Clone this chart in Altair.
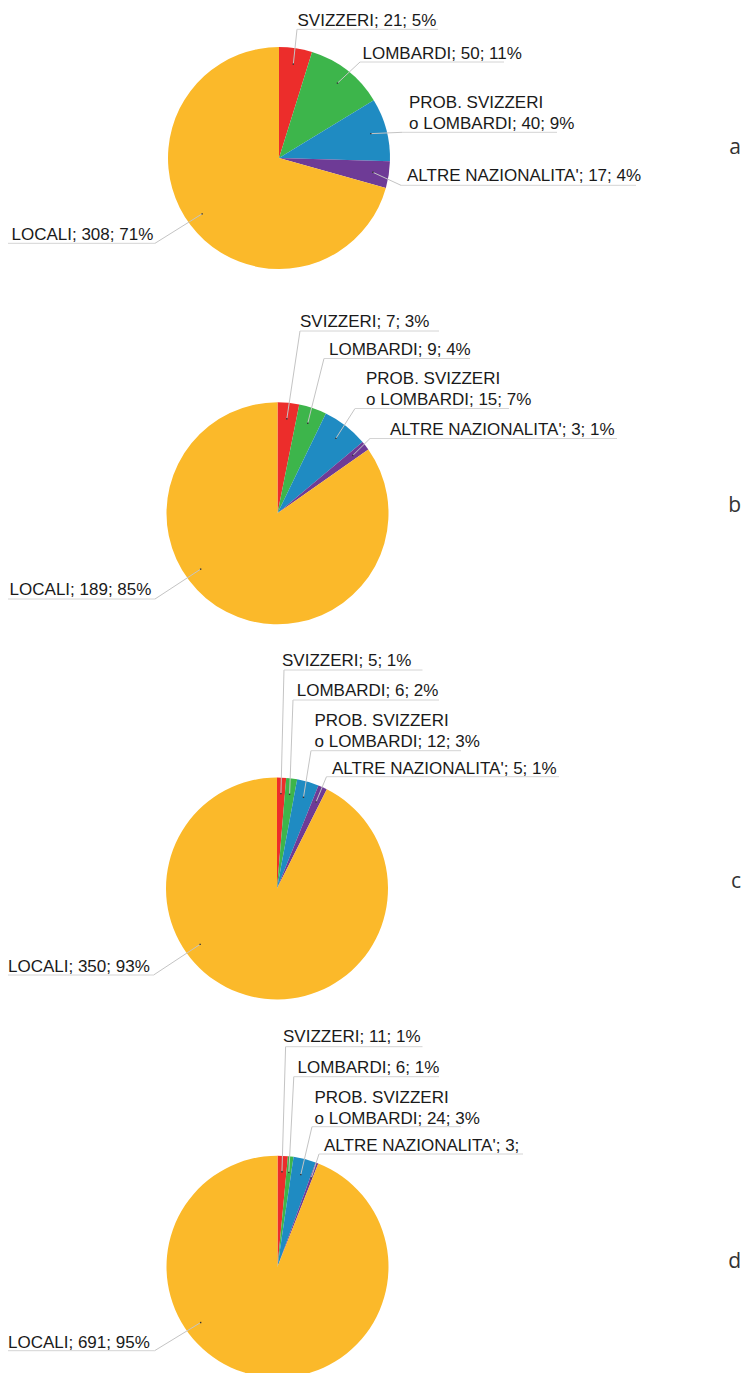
import math
import altair as alt
import pandas as pd

# ---------------- data ----------------
PANELS = ["a", "b", "c", "d"]
CATEGORIES = ["SVIZZERI", "LOMBARDI", "PROB. SVIZZERI\no LOMBARDI",
              "ALTRE NAZIONALITA'", "LOCALI"]
VALUES_A = [21, 50, 40, 17, 308]
VALUES_B = [7, 9, 15, 3, 189]
VALUES_C = [5, 6, 12, 5, 350]
VALUES_D = [11, 6, 24, 3, 691]
PCT_A = ["5%", "11%", "9%", "4%", "71%"]
PCT_B = ["3%", "4%", "7%", "1%", "85%"]
PCT_C = ["1%", "2%", "3%", "1%", "93%"]
PCT_D = ["1%", "1%", "3%", "", "95%"]
COLORS = ["#EC2D2B", "#3DB54B", "#1F8BC2", "#6E3B96", "#FBB92A"]

# ---------------- layout (page pixels) ----------------
W, H = 733, 1365
RADIUS = 111
DOT_R = 95
BIG_SLICE_ANCHOR = 234 * math.pi / 180   # label anchor angle of the large slice
CENTER_X = [279, 277.5, 277, 277.5]
CENTER_Y = [158, 513.3, 888.5, 1266.7]
LETTER_Y = [154, 512, 888, 1268]
LETTER_X = 741
# per pie, per category: text x, text baseline y, underline x0, x1, y
LAYOUT = [
    [(297.5, 25.5, 297, 438, 29.3), (362.5, 59, 360, 504, 62),
     (409, 108, 402, 557, 132.3), (407, 181, 401, 636, 185.3),
     (11.5, 240, 8, 155, 243.3)],
    [(300, 326.5, 300, 439, 331), (329, 355, 324, 470, 358.5),
     (366, 384, 355, 509, 408.5), (390, 435, 370, 617, 438.5),
     (9.6, 594.5, 8, 155, 599)],
    [(282, 666, 284, 422.5, 670), (296.7, 696, 293, 439, 700),
     (314.5, 726, 311, 461, 750.7), (332, 774, 326.5, 559, 776.7),
     (8, 971.7, 8, 153.6, 975)],
    [(283, 1042.3, 285.6, 422.5, 1046.7), (297.6, 1073.3, 293.8, 439, 1076.7),
     (314.5, 1102.7, 312, 461, 1126.7), (324, 1150.7, 319, 523, 1154),
     (8, 1348.3, 8, 154.6, 1350.7)],
]

rows = []
for p, (vals, pcts) in enumerate(zip([VALUES_A, VALUES_B, VALUES_C, VALUES_D],
                                     [PCT_A, PCT_B, PCT_C, PCT_D])):
    for i, (cat, v, pc) in enumerate(zip(CATEGORIES, vals, pcts)):
        tx, ty, ux0, ux1, uy = LAYOUT[p][i]
        label = f"{cat}; {v}; {pc}" if pc else f"{cat}; {v};"
        rows.append(dict(panel=PANELS[p], order=i, cat=cat, value=v,
                         label=label, cx=CENTER_X[p], cy=CENTER_Y[p],
                         tx=tx, ty=ty, ux0=ux0, ux1=ux1, uy=uy))
df = pd.DataFrame(rows)
letters = pd.DataFrame(dict(letter=PANELS, lx=[LETTER_X] * 4, ly=LETTER_Y))

xs = alt.Scale(domain=[8, 8 + W], range=[0, W], nice=False, zero=False)
ys = alt.Scale(domain=[8, 8 + H], range=[0, H], nice=False, zero=False)

base = (
    alt.Chart(df)
    .transform_joinaggregate(total="sum(value)", groupby=["panel"])
    .transform_window(cum="sum(value)", groupby=["panel"],
                      sort=[alt.SortField("order")], frame=[None, 0])
    .transform_calculate(
        f1="datum.cum / datum.total",
        f0="(datum.cum - datum.value) / datum.total",
    )
    .transform_calculate(
        mid=f"datum.order == 4 ? {BIG_SLICE_ANCHOR} : PI * (datum.f0 + datum.f1)")
    .transform_calculate(
        px=f"datum.cx + {DOT_R} * sin(datum.mid)",
        py=f"datum.cy - {DOT_R} * cos(datum.mid)",
        ax="datum.ux0 < datum.cx ? datum.ux1 : datum.ux0",
    )
)

arcs = base.mark_arc(radius=RADIUS).encode(
    x=alt.X("cx:Q", scale=xs, axis=None),
    y=alt.Y("cy:Q", scale=ys, axis=None),
    theta=alt.Theta("f0:Q", scale=alt.Scale(domain=[0, 1], range=[0, 2 * math.pi])),
    theta2="f1:Q",
    color=alt.Color("cat:N", scale=alt.Scale(domain=CATEGORIES, range=COLORS),
                    legend=None),
)

leaders = base.mark_rule(color="#c4c4c4", strokeWidth=1).encode(
    x=alt.X("px:Q", scale=xs, axis=None),
    y=alt.Y("py:Q", scale=ys, axis=None),
    x2="ax:Q",
    y2="uy:Q",
)

underlines = base.mark_rule(color="#d4d4d4", strokeWidth=1).encode(
    x=alt.X("ux0:Q", scale=xs, axis=None),
    x2="ux1:Q",
    y=alt.Y("uy:Q", scale=ys, axis=None),
)

dots = base.mark_square(size=2, color="#333333", opacity=1).encode(
    x=alt.X("px:Q", scale=xs, axis=None),
    y=alt.Y("py:Q", scale=ys, axis=None),
)

labels = base.mark_text(align="left", baseline="alphabetic",
                        font="Liberation Sans", fontSize=17, color="#1a1a1a",
                        lineBreak="\n", lineHeight=21).encode(
    x=alt.X("tx:Q", scale=xs, axis=None),
    y=alt.Y("ty:Q", scale=ys, axis=None),
    text="label:N",
)

letter_text = alt.Chart(letters).mark_text(
    align="right", baseline="alphabetic", font="Open Sans", fontSize=21,
    color="#333333").encode(
    x=alt.X("lx:Q", scale=xs, axis=None),
    y=alt.Y("ly:Q", scale=ys, axis=None),
    text="letter:N",
)

chart = (
    alt.layer(arcs, leaders, underlines, dots, labels, letter_text)
    .properties(width=W, height=H, padding=0,
                autosize=alt.AutoSizeParams(type="none"))
    .configure_view(stroke=None)
)

chart.save("out.html", embed_options={"renderer": "svg", "actions": False})
